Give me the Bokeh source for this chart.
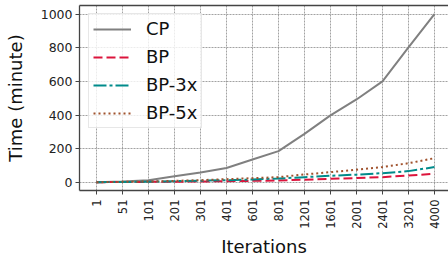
from bokeh.plotting import figure
from bokeh.models import Range1d, FixedTicker, LinearAxis, Legend, LegendItem
from bokeh.embed import file_html
from bokeh.resources import INLINE
import math

iterations = ["1", "51", "101", "201", "301", "401", "601", "801", "1201", "1601", "2001", "2401", "3201", "4000"]
cp = [0, 4, 12, 35, 58, 85, 135, 185, 288, 398, 493, 601, 803, 1002]
bp = [0, 1, 2, 3, 4, 6, 8, 10, 15, 20, 25, 30, 40, 50]
bp3 = [0, 1, 3, 6, 9, 12, 16, 22, 30, 38, 45, 54, 66, 90]
bp5 = [0, 2, 4, 8, 12, 18, 24, 30, 46, 60, 74, 90, 113, 143]
y_ticks = [0, 200, 400, 600, 800, 1000]

xs = list(range(len(iterations)))
FONT = "DejaVu Sans"

p = figure(width=448, height=259, output_backend="svg", toolbar_location=None,
           x_range=Range1d(-0.654, 13.54), y_range=Range1d(-49.5, 1053),
           min_border_left=79, min_border_right=0, min_border_top=5, min_border_bottom=69)
p.outline_line_color = None
p.background_fill_color = "white"
p.border_fill_color = "white"

series = [
    ("CP", cp, "#808080", "solid"),
    ("BP", bp, "#DC143C", "9 4"),
    ("BP-3x", bp3, "#008B8B", "13 3 3 3"),
    ("BP-5x", bp5, "#A0522D", "2 3"),
]
items = []
for name, ys, col, dash in series:
    r = p.line(xs, ys, line_color=col, line_width=2, line_dash=dash)
    items.append(LegendItem(label=name, renderers=[r]))

axis_col = "#444444"
for ax in (p.xaxis[0], p.yaxis[0]):
    ax.axis_line_color = axis_col
    ax.axis_line_width = 1.3
    ax.major_tick_line_color = axis_col
    ax.major_tick_out = 4
    ax.major_tick_in = 0
    ax.minor_tick_line_color = None
    ax.major_label_text_font = FONT
    ax.major_label_text_color = "#222222"
    ax.axis_label_text_font = FONT
    ax.axis_label_text_font_style = "normal"
    ax.axis_label_text_color = "#111111"
    ax.axis_label_text_font_size = "18px"

p.xaxis.ticker = FixedTicker(ticks=xs)
p.xaxis.major_label_overrides = {i: lab for i, lab in enumerate(iterations)}
p.xaxis.major_label_orientation = math.pi / 2
p.xaxis.major_label_text_font_size = "11.5px"
p.xaxis.major_label_standoff = 5
p.xaxis.axis_label = "Iterations"
p.xaxis.axis_label_standoff = 4

p.yaxis.ticker = FixedTicker(ticks=y_ticks)
p.yaxis.major_label_text_font_size = "12.5px"
p.yaxis.major_label_standoff = 3
p.yaxis.axis_label = "Time (minute)"
p.yaxis.axis_label_standoff = 12

top = LinearAxis(ticker=FixedTicker(ticks=[]), axis_line_color=axis_col, axis_line_width=1.3,
                 major_tick_line_color=None, minor_tick_line_color=None,
                 major_label_text_font_size="0px", major_tick_out=0, major_tick_in=0,
                 major_label_standoff=0)
p.add_layout(top, "above")

for g in (p.xgrid[0], p.ygrid[0]):
    g.grid_line_color = "#8a8a8a"
    g.grid_line_dash = "2 1"
    g.grid_line_width = 0.8
p.xgrid.ticker = FixedTicker(ticks=xs)
p.ygrid.ticker = FixedTicker(ticks=y_ticks)

legend = Legend(items=items, location=(9, 62))
legend.label_text_font = FONT
legend.label_text_font_size = "18px"
legend.label_text_color = "#111111"
legend.glyph_width = 38
legend.glyph_height = 20
legend.label_height = 20
legend.label_standoff = 15
legend.spacing = 7
legend.padding = 4
legend.margin = 0
legend.background_fill_color = "white"
legend.background_fill_alpha = 0.8
legend.border_line_color = "#d0d0d0"
legend.border_line_width = 1
p.add_layout(legend, "center")

open("out.html", "w").write(file_html(p, INLINE))
